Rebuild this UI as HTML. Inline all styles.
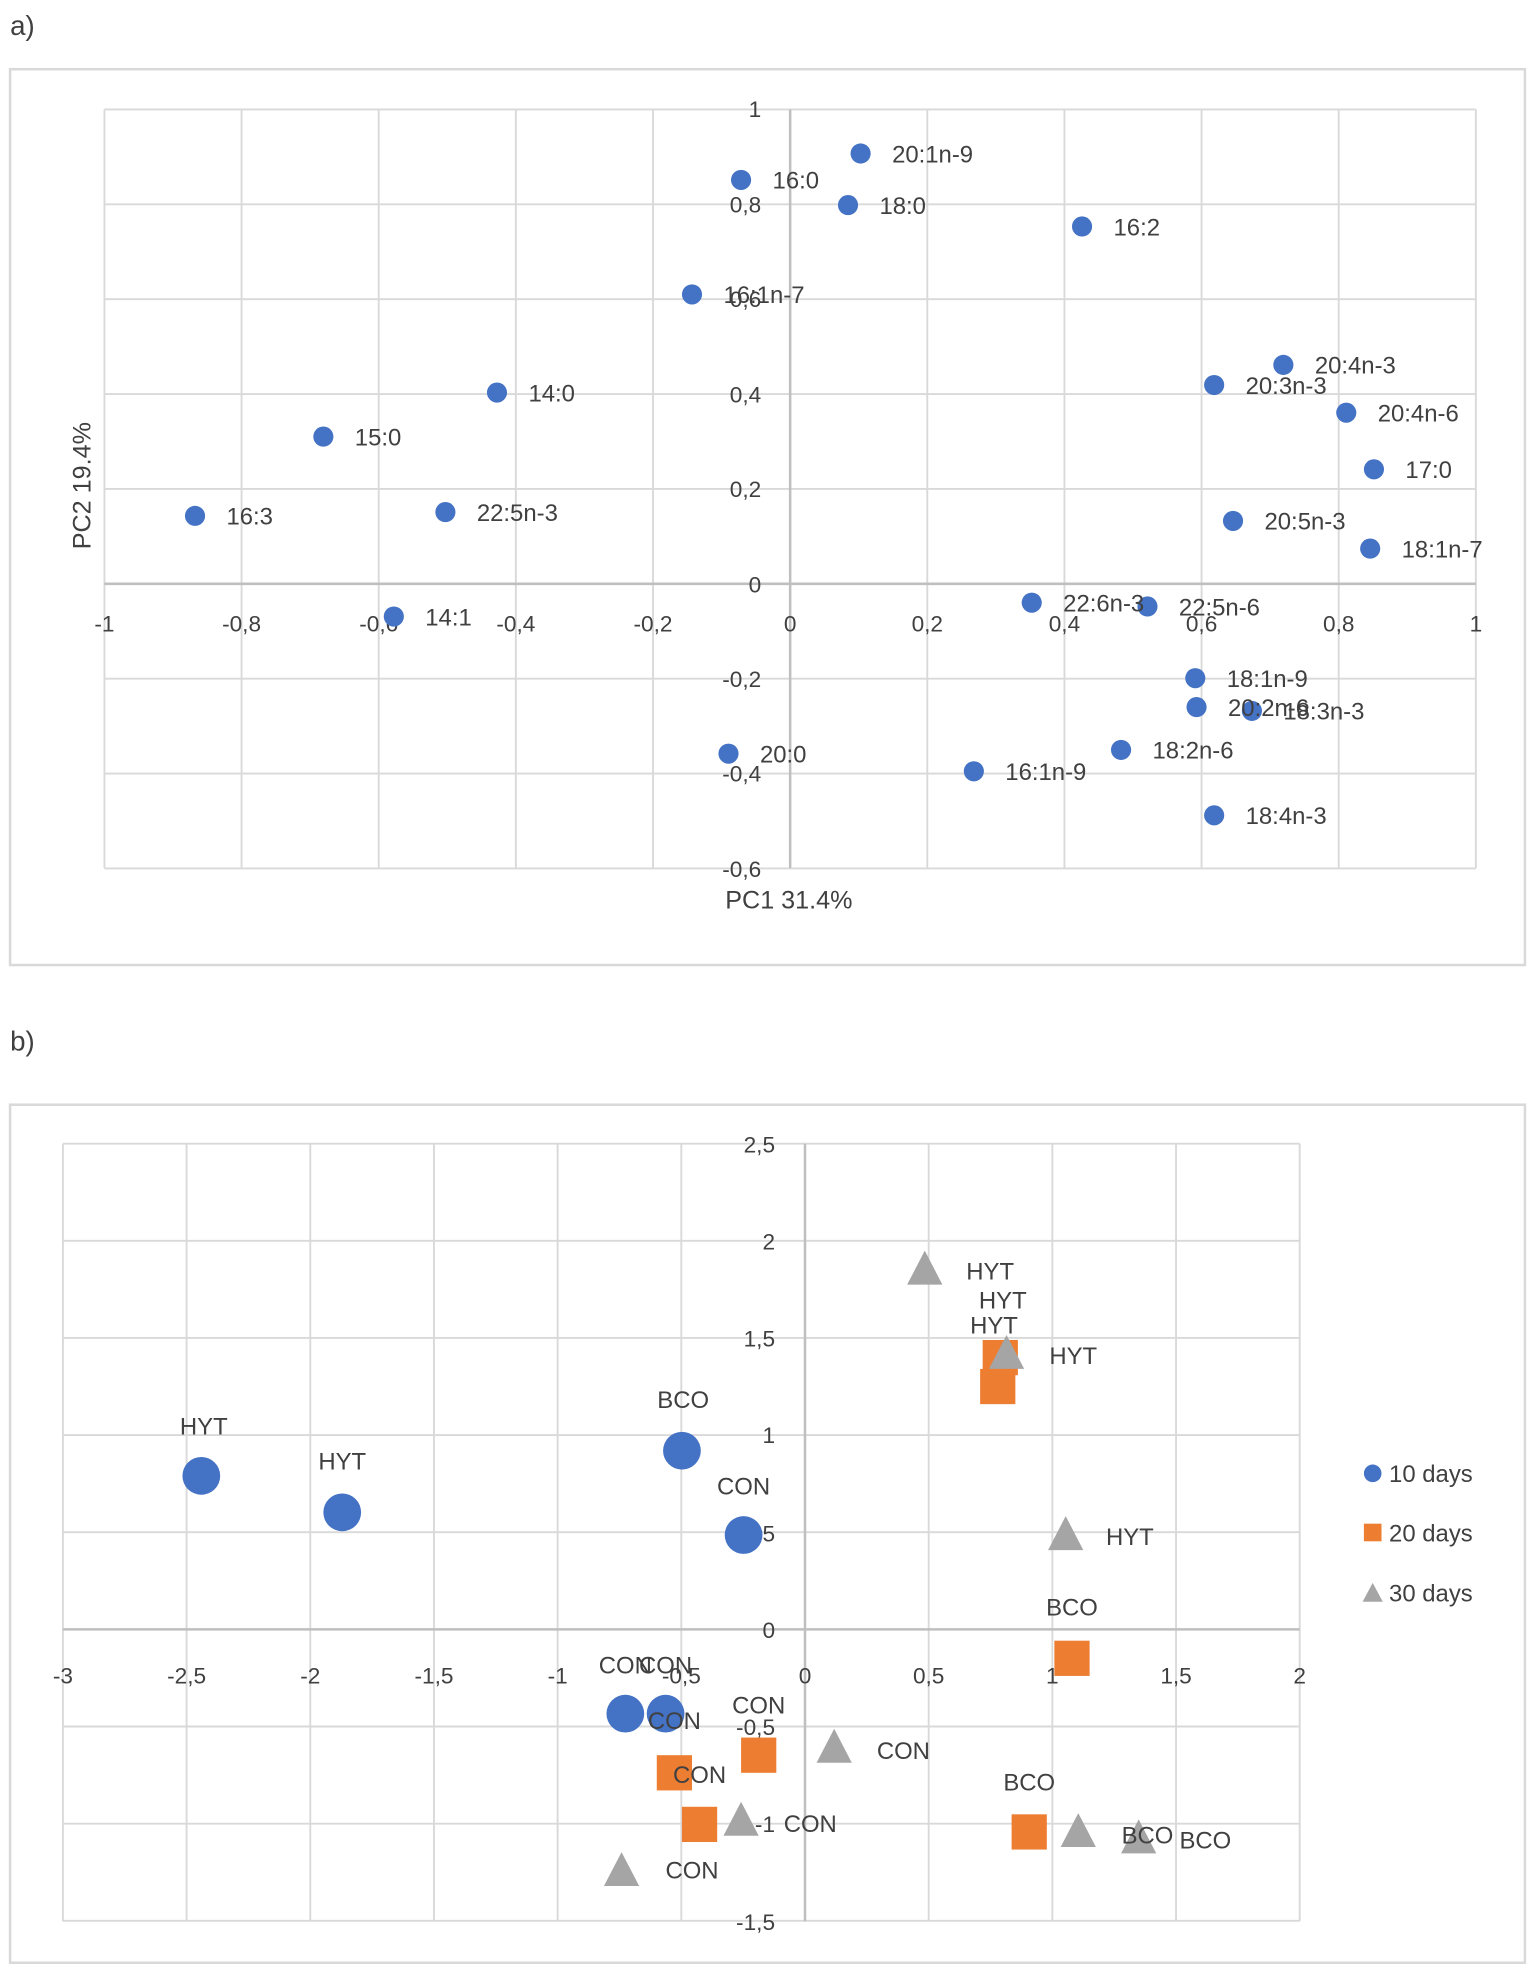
<!DOCTYPE html>
<html><head><meta charset="utf-8"><style>
html,body{margin:0;padding:0;background:#fff;}
svg{display:block;}
text{font-family:"Liberation Sans",sans-serif;fill:#404040;}
</style></head><body>
<svg width="1535" height="1979" viewBox="0 0 1535 1979" xmlns="http://www.w3.org/2000/svg">
<g transform="scale(1.2582)">
<text x="8" y="28" font-size="22" fill="#222">a)</text>
<rect x="8" y="55" width="1204" height="712" fill="none" stroke="#d9d9d9" stroke-width="2"/>
<g stroke="#d9d9d9" stroke-width="1.5">
<line x1="83" y1="87" x2="83" y2="690"/><line x1="192" y1="87" x2="192" y2="690"/><line x1="301" y1="87" x2="301" y2="690"/><line x1="410" y1="87" x2="410" y2="690"/><line x1="519" y1="87" x2="519" y2="690"/><line x1="737" y1="87" x2="737" y2="690"/><line x1="846" y1="87" x2="846" y2="690"/><line x1="955" y1="87" x2="955" y2="690"/><line x1="1064" y1="87" x2="1064" y2="690"/><line x1="1173" y1="87" x2="1173" y2="690"/>
<line x1="83" y1="87" x2="1173" y2="87"/><line x1="83" y1="162.4" x2="1173" y2="162.4"/><line x1="83" y1="237.8" x2="1173" y2="237.8"/><line x1="83" y1="313.2" x2="1173" y2="313.2"/><line x1="83" y1="388.6" x2="1173" y2="388.6"/><line x1="83" y1="539.4" x2="1173" y2="539.4"/><line x1="83" y1="614.8" x2="1173" y2="614.8"/><line x1="83" y1="690.2" x2="1173" y2="690.2"/>
</g>
<g stroke="#bfbfbf" stroke-width="2"><line x1="628" y1="87" x2="628" y2="690"/><line x1="83" y1="464" x2="1173" y2="464"/></g>
<g font-size="18" text-anchor="middle" fill="#595959">
<text x="83" y="502">-1</text><text x="192" y="502">-0,8</text><text x="301" y="502">-0,6</text><text x="410" y="502">-0,4</text><text x="519" y="502">-0,2</text><text x="628" y="502">0</text><text x="737" y="502">0,2</text><text x="846" y="502">0,4</text><text x="955" y="502">0,6</text><text x="1064" y="502">0,8</text><text x="1173" y="502">1</text>
</g>
<g font-size="18" text-anchor="end">
<text x="605" y="93">1</text><text x="605" y="169">0,8</text><text x="605" y="244">0,6</text><text x="605" y="320">0,4</text><text x="605" y="395">0,2</text><text x="605" y="471">0</text><text x="605" y="546">-0,2</text><text x="605" y="621">-0,4</text><text x="605" y="697">-0,6</text>
</g>
<text x="627" y="722" font-size="20" text-anchor="middle" fill="#595959">PC1 31.4%</text>
<text transform="translate(72,386) rotate(-90)" font-size="20" text-anchor="middle" fill="#595959">PC2 19.4%</text>
<g fill="#4472c4">
<circle cx="684" cy="122" r="8"/><circle cx="589" cy="143" r="8"/><circle cx="674" cy="163" r="8"/><circle cx="860" cy="180" r="8"/><circle cx="550" cy="234" r="8"/><circle cx="1020" cy="290" r="8"/><circle cx="965" cy="306" r="8"/><circle cx="1070" cy="328" r="8"/><circle cx="1092" cy="373" r="8"/><circle cx="980" cy="414" r="8"/><circle cx="1089" cy="436" r="8"/><circle cx="395" cy="312" r="8"/><circle cx="257" cy="347" r="8"/><circle cx="155" cy="410" r="8"/><circle cx="354" cy="407" r="8"/><circle cx="313" cy="490" r="8"/><circle cx="820" cy="479" r="8"/><circle cx="912" cy="482" r="8"/><circle cx="950" cy="539" r="8"/><circle cx="951" cy="562" r="8"/><circle cx="995" cy="565" r="8"/><circle cx="579" cy="599" r="8"/><circle cx="774" cy="613" r="8"/><circle cx="891" cy="596" r="8"/><circle cx="965" cy="648" r="8"/>
</g>
<g font-size="19">
<text x="709" y="129">20:1n-9</text><text x="614" y="150">16:0</text><text x="699" y="170">18:0</text><text x="885" y="187">16:2</text><text x="575" y="241">16:1n-7</text><text x="1045" y="297">20:4n-3</text><text x="990" y="313">20:3n-3</text><text x="1095" y="335">20:4n-6</text><text x="1117" y="380">17:0</text><text x="1005" y="421">20:5n-3</text><text x="1114" y="443">18:1n-7</text><text x="420" y="319">14:0</text><text x="282" y="354">15:0</text><text x="180" y="417">16:3</text><text x="379" y="414">22:5n-3</text><text x="338" y="497">14:1</text><text x="845" y="486">22:6n-3</text><text x="937" y="489">22:5n-6</text><text x="975" y="546">18:1n-9</text><text x="976" y="569">20:2n-6</text><text x="1020" y="572">18:3n-3</text><text x="604" y="606">20:0</text><text x="799" y="620">16:1n-9</text><text x="916" y="603">18:2n-6</text><text x="990" y="655">18:4n-3</text>
</g>

<text x="8" y="835" font-size="22" fill="#222">b)</text>
<rect x="8" y="878" width="1204" height="682" fill="none" stroke="#d9d9d9" stroke-width="2"/>
<g stroke="#d9d9d9" stroke-width="1.5">
<line x1="50" y1="909" x2="50" y2="1527"/><line x1="148.3" y1="909" x2="148.3" y2="1527"/><line x1="246.6" y1="909" x2="246.6" y2="1527"/><line x1="344.9" y1="909" x2="344.9" y2="1527"/><line x1="443.2" y1="909" x2="443.2" y2="1527"/><line x1="541.5" y1="909" x2="541.5" y2="1527"/><line x1="738.1" y1="909" x2="738.1" y2="1527"/><line x1="836.4" y1="909" x2="836.4" y2="1527"/><line x1="934.7" y1="909" x2="934.7" y2="1527"/><line x1="1033" y1="909" x2="1033" y2="1527"/>
<line x1="50" y1="909" x2="1033" y2="909"/><line x1="50" y1="986.2" x2="1033" y2="986.2"/><line x1="50" y1="1063.4" x2="1033" y2="1063.4"/><line x1="50" y1="1140.6" x2="1033" y2="1140.6"/><line x1="50" y1="1217.8" x2="1033" y2="1217.8"/><line x1="50" y1="1372.2" x2="1033" y2="1372.2"/><line x1="50" y1="1449.4" x2="1033" y2="1449.4"/><line x1="50" y1="1526.6" x2="1033" y2="1526.6"/>
</g>
<g stroke="#bfbfbf" stroke-width="2"><line x1="639.8" y1="909" x2="639.8" y2="1527"/><line x1="50" y1="1295" x2="1033" y2="1295"/></g>
<g font-size="18" text-anchor="middle" fill="#595959">
<text x="50" y="1338">-3</text><text x="148.3" y="1338">-2,5</text><text x="246.6" y="1338">-2</text><text x="344.9" y="1338">-1,5</text><text x="443.2" y="1338">-1</text><text x="541.5" y="1338">-0,5</text><text x="639.8" y="1338">0</text><text x="738.1" y="1338">0,5</text><text x="836.4" y="1338">1</text><text x="934.7" y="1338">1,5</text><text x="1033" y="1338">2</text>
</g>
<g font-size="18" text-anchor="end">
<text x="616" y="916">2,5</text><text x="616" y="993">2</text><text x="616" y="1070">1,5</text><text x="616" y="1147">1</text><text x="616" y="1225">0,5</text><text x="616" y="1302">0</text><text x="616" y="1379">-0,5</text><text x="616" y="1456">-1</text><text x="616" y="1534">-1,5</text>
</g>
<g fill="#4472c4">
<circle cx="160" cy="1173" r="15"/><circle cx="272" cy="1202" r="15"/><circle cx="542" cy="1153" r="15"/><circle cx="591" cy="1220" r="15"/><circle cx="497" cy="1362" r="15"/><circle cx="529" cy="1362" r="15"/>
</g>
<g fill="#ed7d31">
<rect x="781" y="1065" width="28" height="28"/><rect x="779" y="1088" width="28" height="28"/><rect x="838" y="1304" width="28" height="28"/><rect x="589" y="1381" width="28" height="28"/><rect x="522" y="1395" width="28" height="28"/><rect x="542" y="1436" width="28" height="28"/><rect x="804" y="1442" width="28" height="28"/>
</g>
<g fill="#a5a5a5">
<polygon points="735,994 721,1021 749,1021"/><polygon points="800,1061 786,1088 814,1088"/><polygon points="847,1205 833,1232 861,1232"/><polygon points="663,1374 649,1401 677,1401"/><polygon points="589,1432 575,1459 603,1459"/><polygon points="857,1441 843,1468 871,1468"/><polygon points="905,1446 891,1473 919,1473"/><polygon points="494,1472 480,1499 508,1499"/>
</g>
<g font-size="19" text-anchor="middle">
<text x="162" y="1140">HYT</text><text x="272" y="1168">HYT</text><text x="543" y="1119">BCO</text><text x="591" y="1188">CON</text><text x="497" y="1330">CON</text><text x="529" y="1330">CON</text><text x="536" y="1374">CON</text><text x="603" y="1362">CON</text><text x="556" y="1417">CON</text><text x="718" y="1398">CON</text><text x="644" y="1456">CON</text><text x="550" y="1493">CON</text><text x="818" y="1423">BCO</text><text x="912" y="1465">BCO</text><text x="958" y="1469">BCO</text><text x="787" y="1017">HYT</text><text x="797" y="1040">HYT</text><text x="790" y="1060">HYT</text><text x="853" y="1084">HYT</text><text x="898" y="1228">HYT</text><text x="852" y="1284">BCO</text>
</g>
<circle cx="1091" cy="1171" r="7" fill="#4472c4"/>
<rect x="1084" y="1211" width="14" height="14" fill="#ed7d31"/>
<polygon points="1091,1258 1083,1273 1099,1273" fill="#a5a5a5"/>
<g font-size="19" fill="#595959">
<text x="1104" y="1178">10 days</text><text x="1104" y="1225">20 days</text><text x="1104" y="1273">30 days</text>
</g>
</g>
</svg>
</body></html>
